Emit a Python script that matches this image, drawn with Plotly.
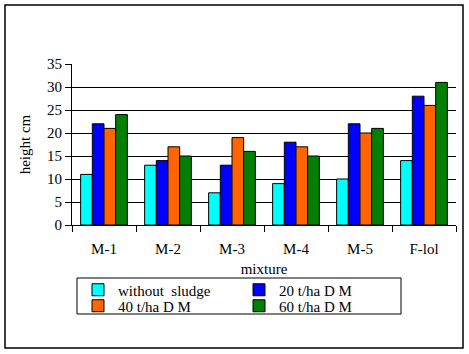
import plotly.graph_objects as go

categories = ["M-1", "M-2", "M-3", "M-4", "M-5", "F-lol"]
series_names = ["without\u00a0 sludge", "20 t/ha D M", "40 t/ha D M", "60 t/ha D M"]
without_sludge = [11, 13, 7, 9, 10, 14]
t20 = [22, 14, 13, 18, 22, 28]
t40 = [21, 17, 19, 17, 20, 26]
t60 = [24, 15, 16, 15, 21, 31]
y_ticks = [0, 5, 10, 15, 20, 25, 30, 35]
grid_vals = [5, 10, 15, 20, 25, 30]

colors = ["#00FFFF", "#0000FF", "#FF6600", "#008000"]
legend_rows = ["legend", "legend", "legend2", "legend2"]
FONT = "Liberation Serif"
F = dict(family=FONT, size=15, color="black")

W, H = 469, 354
L, R, T, B = 72, 13, 64, 129
pw = W - L - R
ph = H - T - B


def px_x(px):
    return (px - L) / pw


def px_y(py):
    return (T + ph - py) / ph


fig = go.Figure()
for name, vals, c, lg in zip(series_names, [without_sludge, t20, t40, t60], colors, legend_rows):
    fig.add_trace(go.Bar(x=categories, y=vals, name=name, legend=lg,
                         marker=dict(color=c, line=dict(color="black", width=1))))

# invisible trace to anchor the gridline axis
fig.add_trace(go.Scatter(x=[categories[0]], y=[0], yaxis="y2", mode="markers",
                         marker=dict(opacity=0), showlegend=False, hoverinfo="skip"))

leg_common = dict(orientation="h", xanchor="left", yanchor="middle",
                  borderwidth=0, bgcolor="rgba(0,0,0,0)",
                  entrywidth=116, entrywidthmode="pixels",
                  font=F, traceorder="normal")

fig.update_layout(
    width=W, height=H,
    margin=dict(l=L, r=R, t=T, b=B, autoexpand=False),
    paper_bgcolor="white", plot_bgcolor="white",
    font=F,
    barmode="group", bargap=0.27, bargroupgap=0,
    xaxis=dict(title=dict(text="mixture", font=F, standoff=7),
               showline=True, linecolor="black", linewidth=1,
               ticks="outside", ticklen=6, tickcolor="black", tickson="boundaries",
               ticklabelstandoff=10,
               showgrid=False, tickfont=F),
    yaxis=dict(title=dict(text="height cm", font=F, standoff=12),
               range=[0, 35], tickvals=y_ticks,
               showline=True, linecolor="black", linewidth=1,
               ticks="outside", ticklen=6, tickcolor="black",
               showgrid=False, zeroline=False, tickfont=F),
    yaxis2=dict(overlaying="y", range=[0, 35], tickvals=grid_vals,
                showgrid=True, gridcolor="black", gridwidth=1,
                showticklabels=False, ticks="", showline=False, zeroline=False,
                side="left"),
    legend=dict(x=px_x(78), y=px_y(290), **leg_common),
    legend2=dict(x=px_x(78), y=px_y(306), **leg_common),
    shapes=[
        dict(type="rect", xref="paper", yref="paper",
             x0=px_x(5), x1=px_x(463), y0=px_y(348), y1=px_y(5),
             line=dict(color="black", width=1.5), fillcolor="rgba(0,0,0,0)"),
        dict(type="rect", xref="paper", yref="paper",
             x0=px_x(77), x1=px_x(401), y0=px_y(314), y1=px_y(278),
             line=dict(color="black", width=1), fillcolor="rgba(0,0,0,0)"),
    ],
    showlegend=True,
)

fig.write_html("out.html")
